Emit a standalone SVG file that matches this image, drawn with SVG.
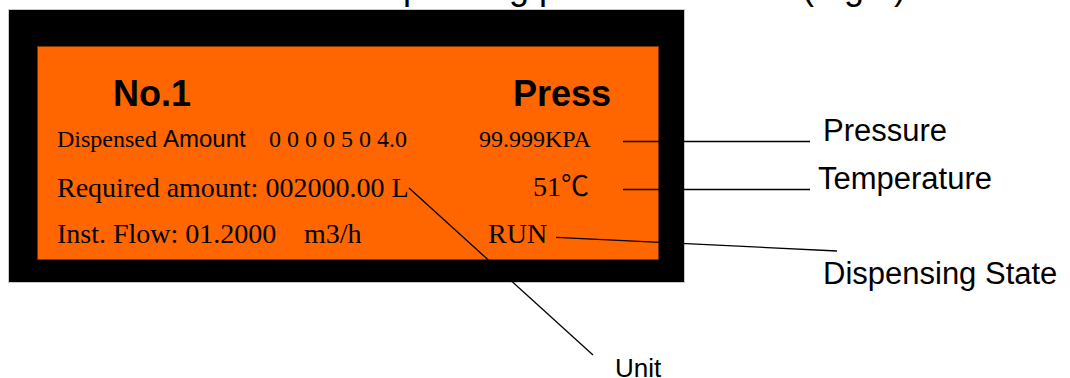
<svg xmlns="http://www.w3.org/2000/svg" width="1070" height="378" viewBox="0 0 1070 378">
  <style>
    .sans { font-family: "Liberation Sans", Arial, sans-serif; fill: #000; }
    .serif { font-family: "Liberation Serif", "Times New Roman", "Noto Sans CJK SC", serif; fill: #000; }
    .bold { font-weight: bold; font-size: 36px; }
    .lead { stroke: #000; stroke-width: 1.3; fill: none; }
    .lbl { font-size: 31px; }
  </style>
  <rect x="0" y="0" width="1070" height="378" fill="#ffffff"/>
  <text class="sans" x="351" y="-1.5" font-size="36">Dispensing panel interface<tspan x="802">(Fig.2)</tspan></text>

  <g id="panel">
    <rect x="8.5" y="9.5" width="676" height="273" fill="#000" stroke="#c8c8c8" stroke-width="1"/>
    <rect x="37.5" y="46.5" width="621" height="213" fill="#ff6600" stroke="#7a3300" stroke-width="1"/>
  </g>

  <g id="display-text">
    <text class="sans bold" x="113" y="106">No.1</text>
    <text class="sans bold" x="513" y="106">Press</text>
    <text x="57" y="147" font-size="24"><tspan class="serif">Dispensed </tspan><tspan class="sans">Amount</tspan></text>
    <text class="serif" x="269" y="147" font-size="24">0 0 0 0 5 0 4.0</text>
    <text class="serif" x="479" y="147" font-size="24">99.999KPA</text>
    <text class="serif" x="57" y="197" font-size="28">Required amount: 002000.00 L</text>
    <text class="serif" x="533" y="196" font-size="28">51℃</text>
    <text class="serif" x="57" y="243" font-size="28">Inst. Flow: 01.2000</text>
    <text class="serif" x="304" y="243" font-size="28">m3/h</text>
    <text class="serif" x="488" y="243" font-size="28">RUN</text>
  </g>

  <g id="connectors">
    <line class="lead" x1="623" y1="141.5" x2="810" y2="141.5"/>
    <line class="lead" x1="623" y1="189.5" x2="810" y2="189.5"/>
    <line class="lead" x1="556" y1="237.3" x2="837" y2="251"/>
    <line class="lead" x1="409" y1="188" x2="593" y2="355"/>
  </g>

  <g id="label-pressure"><text class="sans lbl" x="823" y="141">Pressure</text></g>
  <g id="label-temperature"><text class="sans lbl" x="818" y="189">Temperature</text></g>
  <g id="label-state"><text class="sans lbl" x="823" y="284">Dispensing State</text></g>
  <g id="label-unit"><text class="sans" x="615" y="377" font-size="26">Unit</text></g>
</svg>
